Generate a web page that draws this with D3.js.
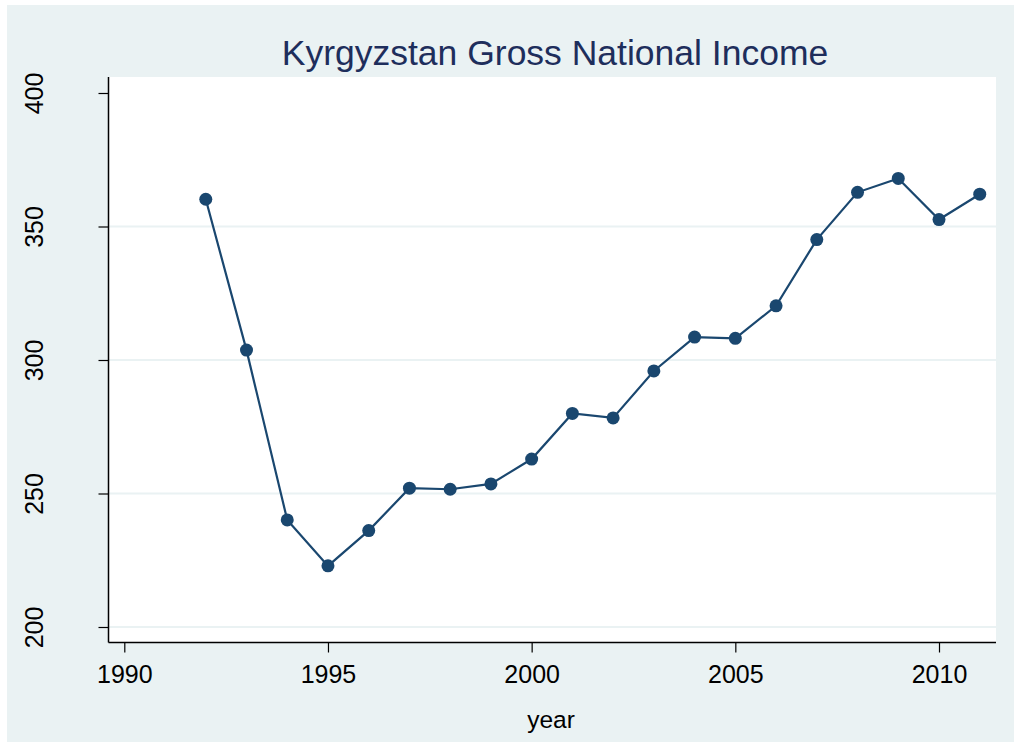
<!DOCTYPE html>
<html>
<head>
<meta charset="utf-8">
<script src="https://cdn.jsdelivr.net/npm/d3@7"></script>
<style>
  body { margin: 0; background: #fff; }
  svg { display: block; font-family: "Liberation Sans", Arial, sans-serif; }
</style>
</head>
<body>
<svg id="chart" width="1014" height="742"></svg>
<script>
// data
const years = [1992, 1993, 1994, 1995, 1996, 1997, 1998, 1999, 2000, 2001,
  2002, 2003, 2004, 2005, 2006, 2007, 2008, 2009, 2010, 2011];
const gni = [360.2, 303.7, 240.1, 222.9, 236.1, 252.0, 251.6, 253.6, 262.9, 280.0,
  278.3, 295.9, 308.6, 308.1, 320.3, 345.1, 362.8, 368.0, 352.6, 362.1];
const xTicks = [1990, 1995, 2000, 2005, 2010];
const yTicks = [200, 250, 300, 350, 400];
const gridTicks = [200, 250, 300, 350];

const navy = '#1a476f';
const bg = '#eaf2f3';

const svg = d3.select('#chart');

// outer background
svg.append('rect')
  .attr('x', 7).attr('y', 5)
  .attr('width', 1007).attr('height', 737)
  .attr('fill', bg);

// plot region
const plot = { left: 108.5, right: 996, top: 77, bottom: 642.5 };
svg.append('rect')
  .attr('x', plot.left).attr('y', plot.top)
  .attr('width', plot.right - plot.left).attr('height', plot.bottom - plot.top)
  .attr('fill', '#fff');

const x = d3.scaleLinear().domain([1990, 2010]).range([124.3, 939]);
const y = d3.scaleLinear().domain([200, 400]).range([627, 93]);

// gridlines
svg.append('g')
  .selectAll('line')
  .data(gridTicks)
  .join('line')
  .attr('x1', plot.left).attr('x2', plot.right)
  .attr('y1', d => y(d)).attr('y2', d => y(d))
  .attr('stroke', bg)
  .attr('stroke-width', 2);

// axes
const yAxis = d3.axisLeft(y).tickValues(yTicks).tickSize(10).tickPadding(0).tickFormat(d3.format('d'));
const gy = svg.append('g')
  .attr('transform', `translate(${plot.left},0)`)
  .call(yAxis);
gy.select('.domain').attr('d', `M0,${plot.top}V${plot.bottom}`).attr('stroke', '#000').attr('stroke-width', 1.5);
gy.selectAll('.tick line').attr('stroke', '#000').attr('stroke-width', 1.2);
gy.selectAll('.tick text')
  .attr('x', 0).attr('y', 0)
  .attr('transform', 'translate(-83.5,0) rotate(-90)')
  .attr('text-anchor', 'middle')
  .attr('dy', '0.72em')
  .attr('font-size', 25)
  .attr('fill', '#000');

const xAxis = d3.axisBottom(x).tickValues(xTicks).tickSize(10).tickPadding(0).tickFormat(d3.format('d'));
const gx = svg.append('g')
  .attr('transform', `translate(0,${plot.bottom})`)
  .call(xAxis);
gx.select('.domain').attr('d', `M${plot.left},0H${plot.right}`).attr('stroke', '#000').attr('stroke-width', 1.5);
gx.selectAll('.tick line').attr('stroke', '#000').attr('stroke-width', 1.2);
gx.selectAll('.tick text')
  .attr('y', 40).attr('dy', null)
  .attr('font-size', 25)
  .attr('fill', '#000');

// line + markers
const pts = years.map((yr, i) => [yr, gni[i]]);
svg.append('path')
  .datum(pts)
  .attr('fill', 'none')
  .attr('stroke', navy)
  .attr('stroke-width', 2.2)
  .attr('d', d3.line().x(d => x(d[0])).y(d => y(d[1])));

svg.append('g')
  .selectAll('circle')
  .data(pts)
  .join('circle')
  .attr('cx', d => x(d[0]))
  .attr('cy', d => y(d[1]))
  .attr('r', 6.5)
  .attr('fill', navy);

// title and axis title
svg.append('text')
  .attr('x', 555).attr('y', 65)
  .attr('text-anchor', 'middle')
  .attr('font-size', 35.5)
  .attr('fill', '#1e2e5c')
  .text('Kyrgyzstan Gross National Income');

svg.append('text')
  .attr('x', 551).attr('y', 728)
  .attr('text-anchor', 'middle')
  .attr('font-size', 24.5)
  .attr('fill', '#000')
  .text('year');
</script>
</body>
</html>
